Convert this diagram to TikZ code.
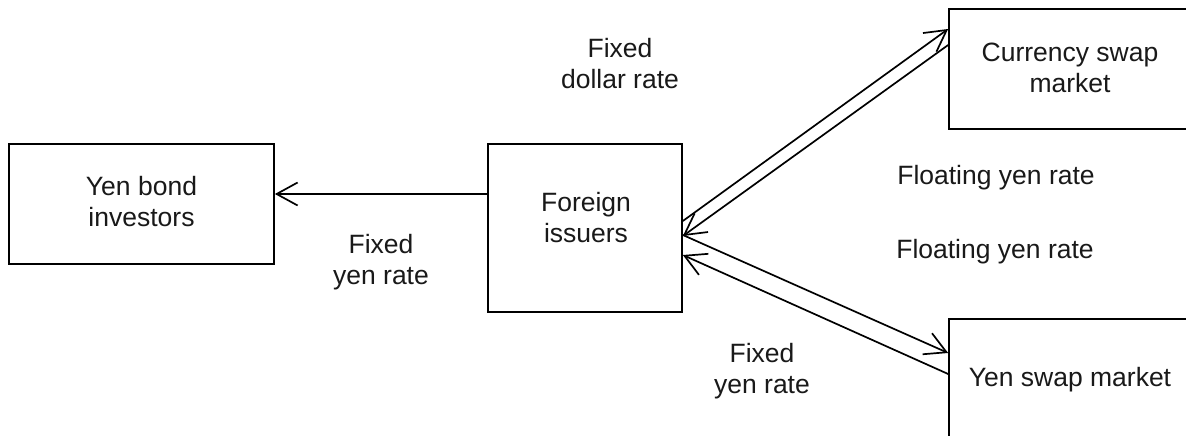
\documentclass[tikz,border=0pt]{standalone}
\usepackage{fontspec}
\setmainfont{Liberation Sans}
\usetikzlibrary{arrows.meta}
\begin{document}
\begin{tikzpicture}[x=1pt,y=-1pt,
  box/.style={draw=black,line width=1.7pt,rectangle,inner sep=0pt},
  txt/.style={font=\fontsize{26.5}{31}\selectfont,align=center,inner sep=0pt,text=black!90},
  arr/.style={draw=black,line width=1.7pt,-{Straight Barb[length=21pt,width=23pt,line width=1.7pt]}}]
\path[use as bounding box] (0,0) rectangle (1186,436);
\clip (0,0) rectangle (1186,436);
\fill[white] (0,0) rectangle (1186,436);
% boxes
\node[box,minimum width=265pt,minimum height=120pt] (ybi) at (141.5,204) {};
\node[box,minimum width=194pt,minimum height=168pt] (fi) at (585,228) {};
\node[box,minimum width=242pt,minimum height=120pt] (csm) at (1070,69) {};
\node[box,minimum width=242pt,minimum height=120pt] (ysm) at (1070,379) {};
% box texts
\node[txt] (tybi) at (141.5,202) {Yen bond\\investors};
\node[txt] (tfi) at (586,217.5) {Foreign\\issuers};
\node[txt] (tcsm) at (1070,67.5) {Currency swap\\market};
\node[txt,anchor=base] (tysm) at (1070,386) {Yen swap market};
% labels
\node[txt] (l1) at (620,64) {Fixed\\dollar rate};
\node[txt] (l2) at (381,262) {Fixed\\yen rate};
\node[txt] (l3) at (762,371) {Fixed\\yen rate};
\node[txt,anchor=base] (l4) at (996,184) {Floating yen rate};
\node[txt,anchor=base] (l5) at (995,258) {Floating yen rate};
% connectors
\draw[arr] ([yshift=34pt]fi.west) -- ([yshift=10pt]ybi.east);
\draw[arr] ([yshift=7pt]fi.east) -- ([yshift=40pt]csm.west);
\draw[arr] ([yshift=24pt]csm.west) -- ([yshift=-8pt]fi.east);
\draw[arr] ([yshift=-7pt]fi.east) -- ([yshift=26pt]ysm.west);
\draw[arr] ([yshift=5pt]ysm.west) -- ([yshift=-27pt]fi.east);
\end{tikzpicture}
\end{document}
